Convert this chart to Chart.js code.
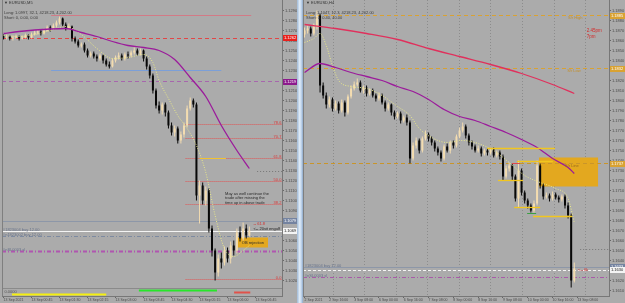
<!DOCTYPE html>
<html><head><meta charset="utf-8">
<script src="https://cdn.jsdelivr.net/npm/chart.js@4.4.1/dist/chart.umd.min.js"></script>
<style>
html,body{margin:0;padding:0;background:#ababab;width:625px;height:303px;overflow:hidden;}
#cL{position:absolute;left:0;top:0;}
#cR{position:absolute;left:303px;top:0;}
#sep{position:absolute;left:297px;top:0;width:6px;height:303px;background:linear-gradient(to right,#9fb9d6,#e2edf8 45%,#c3d7ee 70%,#8ea9c8);}
</style></head><body>
<canvas id="cL" width="297" height="303"></canvas>
<div id="sep"></div>
<canvas id="cR" width="322" height="303"></canvas>
<script>
// ---------------- LEFT CHART DATA (EURUSD, M5) ----------------
const leftOpen0 = 1.1264;
const leftClose = [1.1263,1.1264,1.1262,1.1263,1.1264,1.1262,1.1263,1.1265,1.1263,1.1266,
1.1268,1.1269,1.1267,1.1270,1.1273,1.1272,1.1275,1.1278,1.1282,1.1276,
1.1272,1.1274,1.1262,1.1259,1.1255,1.1256,1.1250,1.1245,1.1247,1.1244,
1.1242,1.1245,1.1240,1.1236,1.1234,1.1240,1.1243,1.1245,1.1242,1.1246,
1.1245,1.1248,1.1250,1.1247,1.1250,1.1242,1.1234,1.1225,1.1210,1.1195,
1.1190,1.1196,1.1188,1.1175,1.1168,1.1172,1.1160,1.1166,1.1175,1.1192,
1.1200,1.1196,1.1105,1.1115,1.1100,1.1110,1.1072,1.1050,1.1028,1.1042,
1.1038,1.1050,1.1042,1.1055,1.1050,1.1068,1.1062,1.1072,1.1065,1.1070];
const leftHigh = [1.1266,1.1266,1.1265,1.1265,1.1266,1.1265,1.1265,1.1267,1.1266,1.1268,
1.1270,1.1271,1.1271,1.1272,1.1275,1.1275,1.1277,1.1280,1.1284,1.1283,
1.1278,1.1277,1.1275,1.1264,1.1261,1.1258,1.1258,1.1252,1.1249,1.1249,
1.1246,1.1247,1.1246,1.1242,1.1239,1.1242,1.1245,1.1248,1.1247,1.1248,
1.1249,1.1250,1.1253,1.1252,1.1252,1.1251,1.1244,1.1236,1.1227,1.1212,
1.1199,1.1198,1.1198,1.1190,1.1178,1.1175,1.1174,1.1169,1.1178,1.1195,
1.1203,1.1202,1.1198,1.1120,1.1118,1.1114,1.1112,1.1075,1.1052,1.1046,
1.1048,1.1054,1.1053,1.1059,1.1060,1.1072,1.1074,1.1078,1.1076,1.1074];
const leftLow = [1.1261,1.1261,1.1260,1.1260,1.1262,1.1260,1.1261,1.1262,1.1261,1.1262,
1.1265,1.1266,1.1265,1.1266,1.1269,1.1269,1.1271,1.1273,1.1276,1.1274,
1.1270,1.1271,1.1259,1.1257,1.1253,1.1253,1.1248,1.1243,1.1243,1.1242,
1.1239,1.1240,1.1237,1.1234,1.1232,1.1233,1.1238,1.1241,1.1240,1.1240,
1.1242,1.1243,1.1246,1.1245,1.1245,1.1239,1.1231,1.1222,1.1207,1.1192,
1.1187,1.1186,1.1184,1.1172,1.1165,1.1164,1.1157,1.1157,1.1163,1.1173,
1.1190,1.1193,1.1100,1.1077,1.1096,1.1095,1.1068,1.1044,1.1020,1.1024,
1.1032,1.1035,1.1038,1.1037,1.1045,1.1047,1.1059,1.1060,1.1062,1.1064];
const leftSlowIdx = [0,5,10,15,20,25,30,35,40,45,50,55,60,65,70,75,79];
const leftSlow = [1.1267,1.1269,1.12705,1.12715,1.1272,1.1268,1.1264,1.1259,1.1255,1.1253,1.1250,1.1241,1.1223,1.1204,1.1175,1.1150,1.1132];
const leftFastIdx = [0,5,10,15,20,25,30,35,40,45,48,50,53,56,59,62,65,68,71,74,77,79];
const leftFast = [1.1265,1.1264,1.1266,1.1270,1.1274,1.1266,1.1252,1.1242,1.1243,1.1246,1.1238,1.1220,1.1202,1.1185,1.1172,1.1155,1.1128,1.1085,1.1052,1.1044,1.1050,1.1055];
const leftFibPrices = [1.1176,1.1162,1.1142,1.1119,1.1096,1.1021];
const leftFibLabels = ['78.6','70.7','61.8','50.0','38.2','0.0'];
const leftTicks = [1.1020,1.1030,1.1040,1.1050,1.1060,1.1070,1.1080,1.1090,1.1100,1.1110,1.1120,1.1130,1.1140,1.1150,1.1160,1.1170,1.1180,1.1190,1.1200,1.1210,1.1220,1.1230,1.1240,1.1250,1.1260,1.1270,1.1280,1.1290];
const leftTimeIdx = [0,9,18,27,36,45,54,63,72,81];
const leftTimeLabels = ['13 Sep 2021','13 Sep 00:45','13 Sep 01:30','13 Sep 02:15','13 Sep 03:00','13 Sep 03:45','13 Sep 04:30','13 Sep 05:15','13 Sep 06:00','13 Sep 06:45'];
const leftHighLine = 1.1285, leftAsk = 1.1262, leftBlueLine = 1.1230, leftPurpleLine = 1.1219;
const leftBid = 1.1079, leftBuy = 1.1069, leftBuy2 = 1.1064, leftSL = 1.1049, leftYellowLvl = 1.1142, leftGrayLvl = 1.1129;
const leftOBTop = 1.1063, leftOBBottom = 1.1053;
const leftStripBase = 1.1012, leftStripYellow = 1.1006, leftStripGreen = 1.1010, leftStripRed = 1.1008;

// ---------------- RIGHT CHART DATA (EURUSD, H4) ----------------
const rightOpen0 = 1.1866;
const rightClose = [1.1870,1.1872,1.1867,1.1874,1.1885,1.1815,1.1805,1.1796,1.1801,1.1792,
1.1797,1.1790,1.1798,1.1788,1.1804,1.1812,1.1816,1.1818,1.1810,1.1813,
1.1807,1.1810,1.1805,1.1802,1.1805,1.1798,1.1792,1.1796,1.1788,1.1784,
1.1787,1.1780,1.1783,1.1778,1.1742,1.1755,1.1760,1.1750,1.1762,1.1766,
1.1762,1.1758,1.1752,1.1748,1.1742,1.1754,1.1750,1.1758,1.1755,1.1764,
1.1770,1.1774,1.1765,1.1758,1.1754,1.1750,1.1752,1.1747,1.1750,1.1748,
1.1751,1.1745,1.1748,1.1744,1.1724,1.1732,1.1735,1.1724,1.1702,1.1730,
1.1708,1.1700,1.1695,1.1690,1.1697,1.1735,1.1715,1.1704,1.1705,1.1702,
1.1706,1.1703,1.1701,1.1704,1.1695,1.1685,1.1620,1.1632];
const rightHigh = [1.1873,1.1875,1.1874,1.1877,1.1890,1.1887,1.1818,1.1808,1.1804,1.1803,
1.1800,1.1799,1.1801,1.1800,1.1806,1.1815,1.1819,1.1822,1.1820,1.1815,
1.1815,1.1812,1.1812,1.1807,1.1808,1.1807,1.1800,1.1798,1.1797,1.1790,
1.1789,1.1789,1.1785,1.1786,1.1780,1.1758,1.1763,1.1762,1.1764,1.1770,
1.1768,1.1764,1.1760,1.1754,1.1750,1.1756,1.1757,1.1760,1.1760,1.1766,
1.1773,1.1778,1.1776,1.1767,1.1760,1.1756,1.1755,1.1754,1.1752,1.1752,
1.1753,1.1753,1.1750,1.1750,1.1746,1.1735,1.1738,1.1737,1.1726,1.1740,
1.1732,1.1710,1.1702,1.1697,1.1700,1.1740,1.1737,1.1717,1.1708,1.1707,
1.1709,1.1708,1.1705,1.1706,1.1706,1.1698,1.1687,1.1638];
const rightLow = [1.1863,1.1867,1.1864,1.1865,1.1871,1.1808,1.1802,1.1792,1.1793,1.1789,
1.1790,1.1787,1.1788,1.1784,1.1786,1.1802,1.1810,1.1814,1.1808,1.1807,
1.1804,1.1805,1.1803,1.1799,1.1800,1.1796,1.1789,1.1790,1.1785,1.1781,
1.1782,1.1777,1.1778,1.1775,1.1737,1.1740,1.1752,1.1747,1.1748,1.1760,
1.1759,1.1755,1.1749,1.1745,1.1739,1.1740,1.1748,1.1747,1.1752,1.1753,
1.1762,1.1768,1.1762,1.1755,1.1751,1.1748,1.1748,1.1744,1.1745,1.1745,
1.1746,1.1743,1.1743,1.1741,1.1720,1.1722,1.1729,1.1720,1.1699,1.1693,
1.1705,1.1697,1.1692,1.1688,1.1688,1.1695,1.1712,1.1701,1.1702,1.1699,
1.1700,1.1701,1.1698,1.1699,1.1692,1.1682,1.1613,1.1618];
const rightSlowIdx = [0,5,10,15,20,25,30,35,40,45,50,55,60,65,70,75,80,85,87];
const rightSlow = [1.1828,1.1837,1.1833,1.1828,1.1824,1.1820,1.1814,1.1809,1.1801,1.1791,1.1784,1.1780,1.1774,1.1768,1.1761,1.1753,1.1742,1.1733,1.1727];
const rightMA200Idx = [0,10,20,30,40,50,60,70,80,87];
const rightMA200 = [1.1876,1.1872,1.1867,1.1861,1.1852,1.1844,1.1836,1.1827,1.1816,1.1807];
const rightFastIdx = [0,3,5,7,9,11,15,20,25,30,34,37,41,46,51,56,61,66,71,76,81,85,87];
const rightFast = [1.1858,1.1862,1.1867,1.1855,1.1835,1.1820,1.1814,1.1812,1.1805,1.1794,1.1785,1.1772,1.1763,1.1758,1.1760,1.1757,1.1750,1.1738,1.1725,1.1718,1.1712,1.1702,1.1678];
const rightDaySep = [9.2,19.2,29.5,39.5,49.8,59.8,70.1,80.3,90.3];
const rightSRHigh = 1.1885, rightSRLow = 1.1832, rightSRLine = 1.1737;
const rightBoxTop = 1.1743, rightBoxBottom = 1.1714;
const rightYellowLvls = [1.1752,1.1739,1.1720,1.1693,1.1684];
const rightRedLvl = 1.1737, rightGreenLvl = 1.1687, rightGrayLvl = 1.1651;
const rightBid = 1.1633, rightBuy = 1.1630, rightSL = 1.1623;
const rightTicks = [1.1610,1.1620,1.1630,1.1640,1.1650,1.1660,1.1670,1.1680,1.1690,1.1700,1.1710,1.1720,1.1730,1.1740,1.1750,1.1760,1.1770,1.1780,1.1790,1.1800,1.1810,1.1820,1.1830,1.1840,1.1850,1.1860,1.1870,1.1880,1.1890];
const rightTimeIdx = [0,8,16,24,32,40,48,56,64,72,80,88];
const rightTimeLabels = ['2 Sep 2021','2 Sep 16:00','3 Sep 08:00','6 Sep 00:00','6 Sep 16:00','7 Sep 08:00','8 Sep 00:00','8 Sep 16:00','9 Sep 08:00','10 Sep 00:00','10 Sep 16:00','13 Sep 08:00'];

// ---------------- helpers ----------------
[[leftClose,leftHigh,leftLow],[rightClose,rightHigh,rightLow]].forEach(s=>{
  if (s[0].length!==s[1].length||s[0].length!==s[2].length) throw new Error('length mismatch '+s.map(a=>a.length));
});
const FONT = '"Liberation Sans", Arial, sans-serif';
const AX = '#4a4a4a';
const BULL = '#f3dcb0', BEAR = '#080808';
function zip(idx, vals){ return idx.map((x,i)=>({x:x, y:vals[i]})); }
function candles(open0, c, h, l){
  const o = c.map((v,i)=> i ? c[i-1] : open0);
  const col = c.map((v,i)=> v >= o[i] ? BULL : BEAR);
  return [
    {type:'bar', data:c.map((v,i)=>({x:i,y:[l[i],h[i]]})), backgroundColor:col, barThickness:1, inflateAmount:0, grouped:false, order:21},
    {type:'bar', data:c.map((v,i)=>({x:i,y:[o[i],v]})), backgroundColor:col, barThickness:2, inflateAmount:0, minBarLength:1, grouped:false, order:20}
  ];
}
function hl(p, x0, x1, color, dash, w, order){
  return {type:'line', data:[{x:x0,y:p},{x:x1,y:p}], borderColor:color, borderDash:dash||[], borderWidth:w||1, pointRadius:0, fill:false, order:order||40};
}
function box(top, bot, x0, x1, color){
  return {type:'line', data:[{x:x0,y:top},{x:x1,y:top}], borderWidth:0, borderColor:'rgba(0,0,0,0)', backgroundColor:color, fill:{value:bot}, pointRadius:0, order:90};
}
function ma(idx, vals, color, w, dash, order){
  return {type:'line', data:zip(idx, vals), borderColor:color, borderWidth:w, borderDash:dash||[], pointRadius:0, cubicInterpolationMode:'monotone', fill:false, order:order||10};
}
function scales(xmin,xmax,ymin,ymax,xTicks,xLabels,yTicks,yW){
  return {
    x:{type:'linear',min:xmin,max:xmax,offset:false,
      afterBuildTicks:s=>{s.ticks=xTicks.map(v=>({value:v}));},
      afterFit:s=>{s.height=7;s.paddingLeft=0;s.paddingRight=0;},
      ticks:{autoSkip:false,maxRotation:0,minRotation:0,align:'start',padding:0,font:{size:3.5,family:FONT},color:AX,
        callback:(v)=>{const k=xTicks.indexOf(v);return k<0?'':xLabels[k];}},
      grid:{drawOnChartArea:false,tickLength:2,color:'#666',offset:false}, border:{display:true,color:'#777'}},
    y:{type:'linear',position:'right',min:ymin,max:ymax,
      afterBuildTicks:s=>{s.ticks=yTicks.map(v=>({value:v}));},
      afterFit:s=>{s.width=yW;s.paddingTop=0;s.paddingBottom=0;},
      ticks:{autoSkip:false,padding:1,font:{size:4,family:FONT},color:AX,callback:v=>Number(v).toFixed(4)},
      grid:{drawOnChartArea:false,tickLength:2,color:'#666'}, border:{display:true,color:'#777'}}
  };
}
function overlay(cfg){
  return {
    id:'overlay',
    beforeDatasetsDraw(chart){
      const {ctx, chartArea:a, scales:{x}} = chart;
      ctx.save();
      ctx.strokeStyle = '#8c8c8c'; ctx.lineWidth = 1; ctx.setLineDash([1,2]);
      (cfg.vlines||[]).forEach(v=>{
        const px = Math.round(x.getPixelForValue(v))+0.5;
        ctx.beginPath(); ctx.moveTo(px,a.top); ctx.lineTo(px,a.bottom); ctx.stroke();
      });
      ctx.restore();
    },
    afterDraw(chart){
      const {ctx, chartArea:a, scales:{x,y}} = chart;
      ctx.save();
      ctx.textBaseline = 'middle';
      (cfg.texts||[]).forEach(t=>{
        ctx.font = (t.s||4)+'px '+FONT; ctx.fillStyle = t.c||'#2a2a2a'; ctx.textAlign = t.a||'left';
        ctx.fillText(t.t, x.getPixelForValue(t.x), y.getPixelForValue(t.y));
      });
      (cfg.header||[]).forEach(t=>{
        ctx.font = (t.s||4)+'px '+FONT; ctx.fillStyle = t.c||'#333'; ctx.textAlign = 'left';
        ctx.fillText(t.t, a.left+t.dx, a.top+t.dy);
      });
      (cfg.tags||[]).forEach(t=>{
        const py = Math.round(y.getPixelForValue(t.y));
        ctx.fillStyle = t.bg; ctx.fillRect(a.right+1, py-3, chart.width-a.right-1, 6);
        ctx.fillStyle = t.fg||'#fff'; ctx.font = '4px '+FONT; ctx.textAlign='left';
        ctx.fillText(t.y.toFixed(4), a.right+2, py);
      });
      ctx.strokeStyle = '#7f7f7f'; ctx.lineWidth = 1;
      ctx.beginPath(); ctx.moveTo(a.left+0.5, a.top); ctx.lineTo(a.left+0.5, a.bottom); ctx.stroke();
      ctx.restore();
    }
  };
}
function baseOptions(pad, sc){
  return {responsive:false, animation:false, events:[],
    layout:{padding:pad},
    plugins:{legend:{display:false}, tooltip:{enabled:false}},
    scales:sc};
}

// ---------------- LEFT CHART ----------------
const LX0 = -0.5, LX1 = 89.5;
const leftDatasets = [
  box(leftOBTop, leftOBBottom, 75.1, 85.0, '#e3a81f'),
  hl(leftHighLine, 15.3, 79.6, '#d27a86', [], 1),
  hl(leftAsk, LX0, LX1, '#e24646', [4,3], 1),
  hl(leftBlueLine, 15.3, 70, '#7b9fd8', [], 1),
  hl(leftPurpleLine, LX0, LX1, '#a766ad', [4,3], 1),
  ...leftFibPrices.map(p=>hl(p, 58.5, LX1, '#e05454', [1,1], 1)),
  hl(leftYellowLvl, 63, 71.5, '#f2c230', [], 1, 5),
  hl(leftGrayLvl, 81.5, LX1, '#777', [1,2], 1),
  hl(leftBid, LX0, LX1, '#8d97a8', [], 1),
  hl(leftBuy, LX0, LX1, '#f4f4f4', [], 1),
  hl(leftBuy2, LX0, LX1, '#7d8aa0', [4,2,1,2], 1),
  hl(leftSL, LX0, LX1, '#b055b0', [4,2,1,2], 2),
  hl(leftStripBase, LX0, LX1, '#8a8a8a', [], 1),
  hl(leftStripYellow, 2.7, 33, '#f5ef10', [], 2),
  hl(leftStripGreen, 43.5, 68.6, '#27e62a', [], 2),
  hl(leftStripRed, 74.1, 79.3, '#e0524a', [], 2),
  ...candles(leftOpen0, leftClose, leftHigh, leftLow),
  ma(leftSlowIdx, leftSlow, '#9b1b9b', 1.3, [], 10),
  ma(leftFastIdx, leftFast, '#e9e98a', 1, [1,1.5], 11)
];
const leftOverlay = overlay({
  texts:[
    {t:'May as well continue the', x:71.2, y:1.1107},
    {t:'trade after missing the', x:71.2, y:1.11025},
    {t:'time up in above trade', x:71.2, y:1.1098},
    {t:'OB rejection', x:76.6, y:1.1058, c:'#2a2a2a'},
    {t:'-- 61.8', x:80.3, y:1.10765, c:'#d03030'},
    {t:'<-- 20sit engulf', x:80.3, y:1.1072, c:'#202020'},
    ...leftFibPrices.map((p,i)=>({t:leftFibLabels[i], x:89.3, y:p+0.0002, c:'#d83a3a', a:'right'})),
    {t:'#1823004 buy 12.00', x:-0.2, y:1.1071, c:'#66728a'},
    {t:'#n1823002 buy 12.00', x:-0.2, y:1.10655, c:'#66728a'},
    {t:'#nSL0003 sl', x:-0.2, y:1.1051, c:'#66728a'},
    {t:'0.0000', x:0.3, y:1.10085, c:'#555'}
  ],
  header:[
    {t:'\u25BC EURUSD,M5', dx:2, dy:3, c:'#333'},
    {t:'Long: 1.0997, 32.1, 4218.23, 4,202.00', dx:2, dy:13, c:'#3c3c3c'},
    {t:'Short: 0, 0.00, 0.00', dx:2, dy:18, c:'#3c3c3c'}
  ],
  tags:[
    {y:leftAsk, bg:'#e8201c'},
    {y:leftPurpleLine, bg:'#8c1a8c'},
    {y:leftBid, bg:'#7483a0'},
    {y:leftBuy, bg:'#f4f4f4', fg:'#222'}
  ]
});
new Chart(document.getElementById('cL'), {
  type:'bar',
  data:{datasets:leftDatasets},
  options:baseOptions({left:2,top:0,right:0,bottom:0},
    scales(LX0, LX1, 1.13005-0.0296, 1.13005, leftTimeIdx, leftTimeLabels, leftTicks, 15)),
  plugins:[leftOverlay]
});

// ---------------- RIGHT CHART ----------------
const RX0 = -0.5, RX1 = 98.2;
const rightDatasets = [
  box(rightBoxTop, rightBoxBottom, 75.6, 94.7, '#e3a81f'),
  hl(rightSRHigh, RX0, RX1, '#d9a232', [4,3], 1),
  hl(rightSRLow, RX0, RX1, '#d9a232', [4,3], 1),
  hl(rightSRLine, RX0, RX1, '#c9952a', [4,3], 1),
  hl(rightYellowLvls[0], 58.9, 80.8, '#f2c61e', [], 1.3, 5),
  hl(rightYellowLvls[1], 68.5, 80.1, '#f2c61e', [], 1.3, 5),
  hl(rightYellowLvls[2], 62.4, 70.5, '#f2c61e', [], 1.3, 5),
  hl(rightYellowLvls[3], 67.6, 76.0, '#f2c61e', [], 1.3, 5),
  hl(rightYellowLvls[4], 73.7, 86.3, '#f2c61e', [], 1.3, 5),
  hl(rightRedLvl, 66.9, 69.5, '#e04a4a', [], 1, 5),
  hl(rightGreenLvl, 71.8, 74.7, '#3aa040', [], 1, 5),
  hl(rightGrayLvl, 88.9, RX1, '#777', [1,2], 1),
  hl(rightBid, RX0, RX1, '#8d97a8', [], 1),
  hl(rightBuy, RX0, RX1, '#f4f4f4', [3,2], 1),
  hl(rightSL, RX0, RX1, '#a85aa8', [4,2,1,2], 1),
  ...candles(rightOpen0, rightClose, rightHigh, rightLow),
  ma(rightMA200Idx, rightMA200, '#e0305c', 1.3, [], 10),
  ma(rightSlowIdx, rightSlow, '#9b1b9b', 1.3, [], 10),
  ma(rightFastIdx, rightFast, '#e9e98a', 1, [1,1.5], 11)
];
const rightOverlay = overlay({
  vlines: rightDaySep,
  texts:[
    {t:'S/r High', x:85, y:1.1883, c:'#c4902c'},
    {t:'S/r Low', x:84.7, y:1.1830, c:'#c4902c'},
    {t:'S/r Line', x:84, y:1.1735, c:'#9a6a18'},
    {t:'2.45pm', x:91, y:1.1870, c:'#d42a2a', s:4.5},
    {t:'7pm', x:91, y:1.1864, c:'#d42a2a', s:4.5},
    {t:'<-- 6k', x:88.2, y:1.1631, c:'#d42a2a'},
    {t:'#1823004 buy 12.00', x:0.1, y:1.1635, c:'#66728a'},
    {t:'#nSL0003 sl', x:0.1, y:1.1625, c:'#66728a'}
  ],
  header:[
    {t:'\u25BC EURUSD,H4', dx:3, dy:3, c:'#333'},
    {t:'Long: 1.1047, 12.3, 4218.23, 4,202.00', dx:3, dy:13, c:'#3c3c3c'},
    {t:'Short: 0, 0.40, 40.00', dx:3, dy:18, c:'#3c3c3c'}
  ],
  tags:[
    {y:rightSRHigh, bg:'#d9a232'},
    {y:rightSRLow, bg:'#d9a232'},
    {y:rightSRLine, bg:'#d9a232'},
    {y:rightBid, bg:'#7483a0'},
    {y:rightBuy, bg:'#f4f4f4', fg:'#222'}
  ]
});
new Chart(document.getElementById('cR'), {
  type:'bar',
  data:{datasets:rightDatasets},
  options:baseOptions({left:0,top:0,right:0,bottom:0},
    scales(RX0, RX1, 1.19005-0.0296, 1.19005, rightTimeIdx, rightTimeLabels, rightTicks, 16)),
  plugins:[rightOverlay]
});
</script>
</body></html>
